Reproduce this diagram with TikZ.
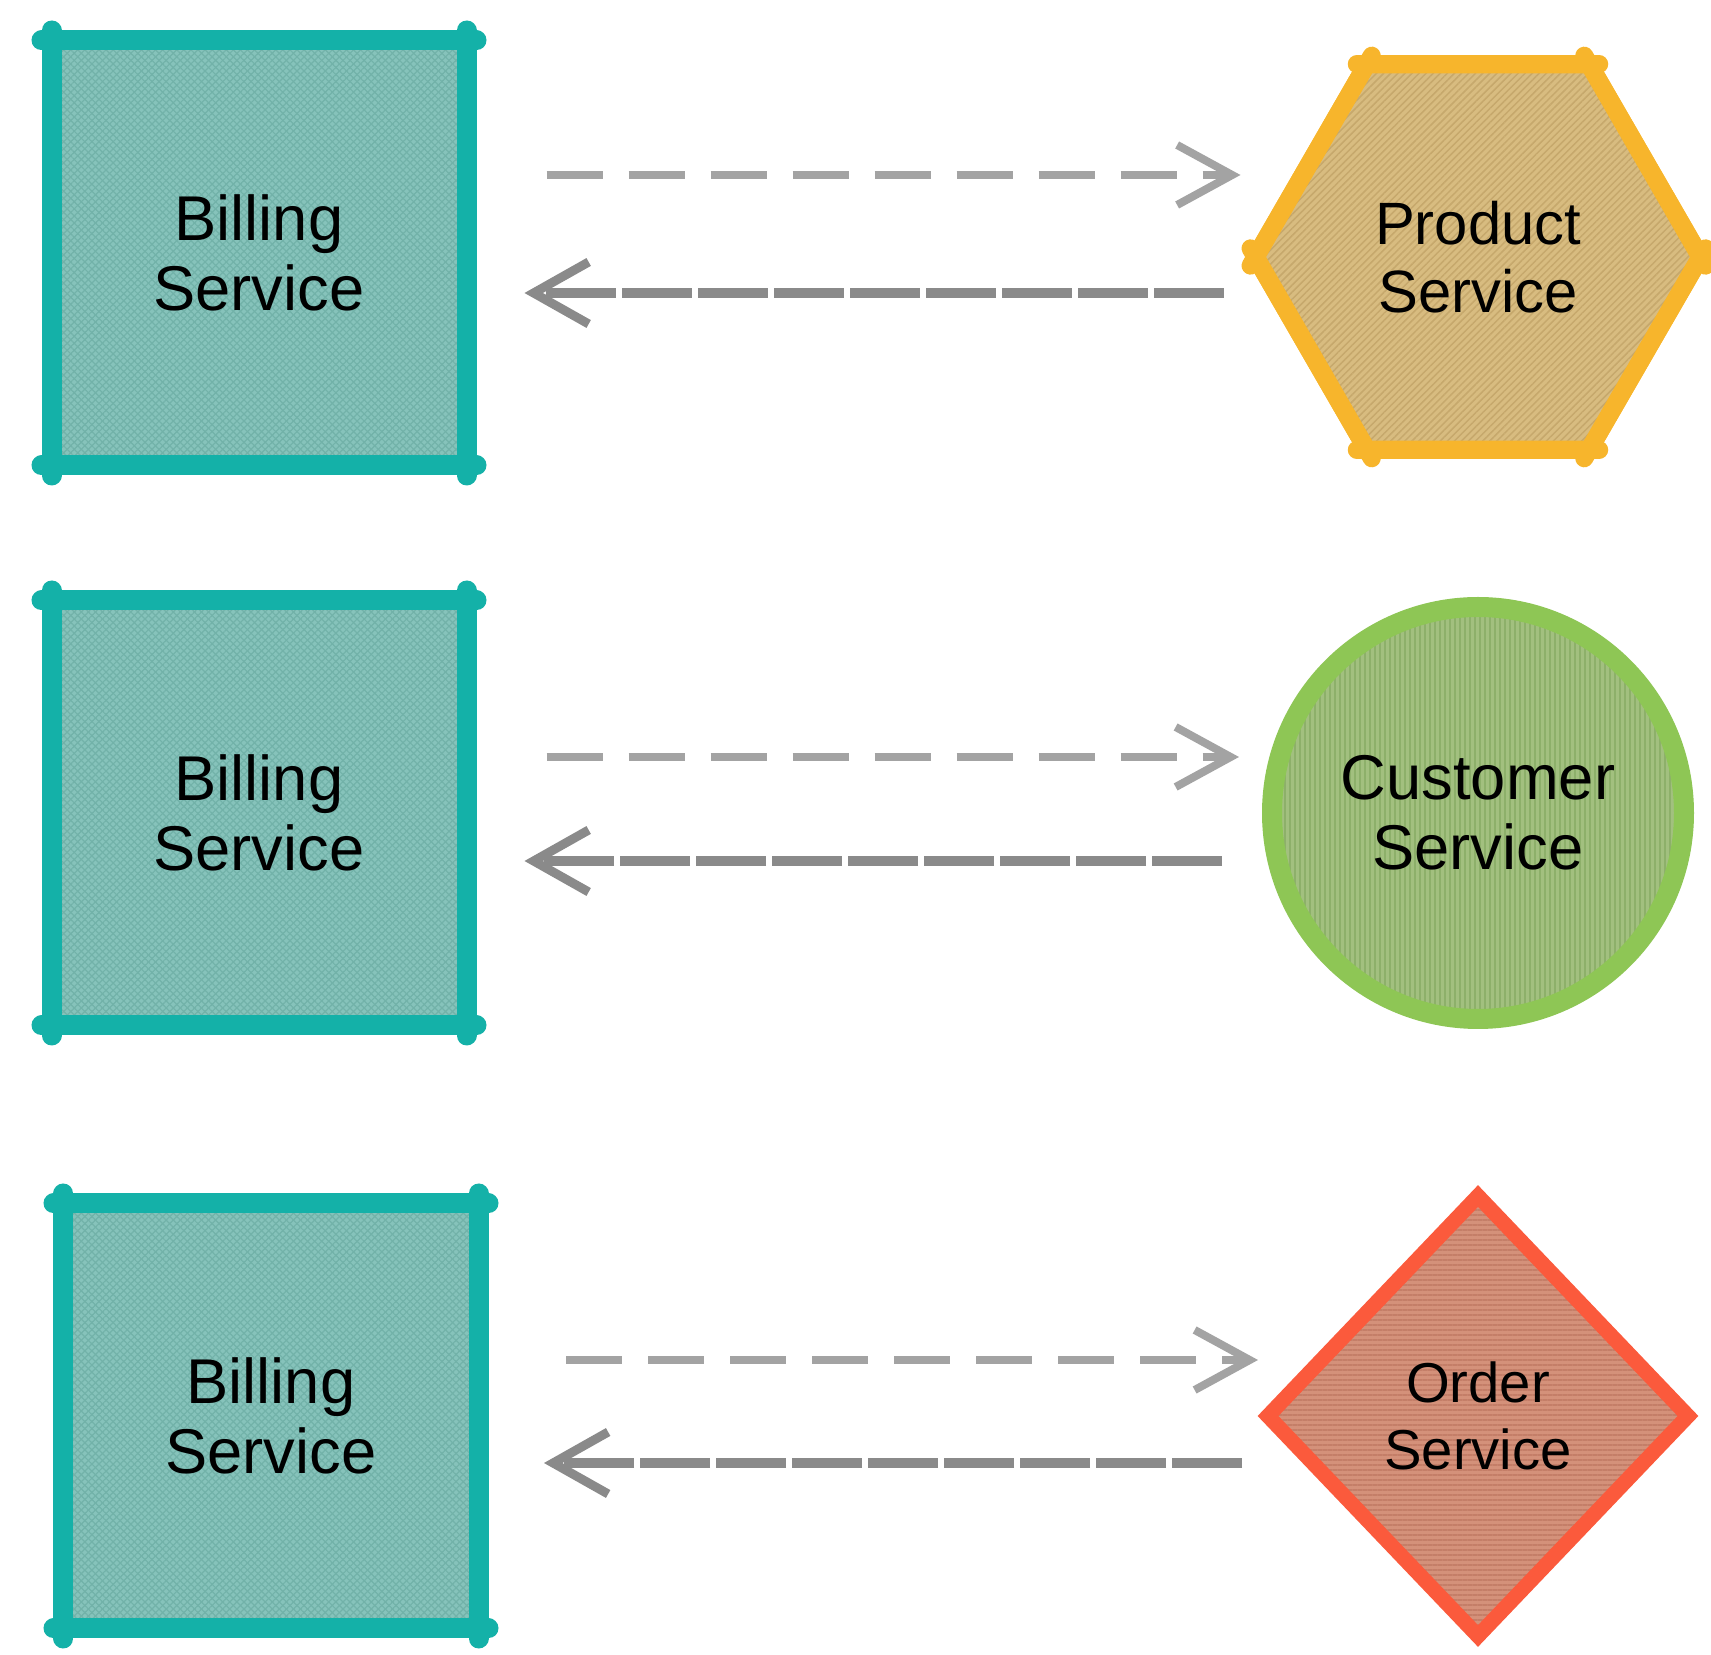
\documentclass[tikz,border=0pt]{standalone}
\usepackage{fontspec}
\setmainfont{Liberation Sans}
\usepackage{tikz}
\usetikzlibrary{shapes.geometric, arrows.meta}
\usetikzlibrary{positioning, patterns.meta}

\definecolor{billline}{HTML}{14B1A8}
\definecolor{billfill}{HTML}{86C3BB}
\definecolor{billhatch}{HTML}{72B2A9}
\definecolor{prodline}{HTML}{F7B52C}
\definecolor{prodfill}{HTML}{D8BC80}
\definecolor{prodhatch}{HTML}{C6A86C}
\definecolor{custline}{HTML}{8EC655}
\definecolor{custfill}{HTML}{A2C07F}
\definecolor{custhatch}{HTML}{8DB06A}
\definecolor{ordline}{HTML}{FB5A3C}
\definecolor{ordfill}{HTML}{D4917A}
\definecolor{ordhatch}{HTML}{C47E68}
\definecolor{reqgray}{HTML}{A3A3A3}
\definecolor{respgray}{HTML}{8A8A8A}

\tikzstyle{billing} = [rectangle, minimum width=4.15cm, minimum height=4.25cm, outer sep=0pt, line width=0.2cm, draw=billline, preaction={fill=billfill}, preaction={pattern={Lines[angle=45,distance=0.05cm,line width=0.012cm]}, pattern color=billhatch}, preaction={pattern={Lines[angle=-45,distance=0.05cm,line width=0.012cm]}, pattern color=billhatch}, align=center, font=\fontsize{18}{20}\selectfont]
\tikzstyle{product} = [regular polygon, regular polygon sides=6, minimum size=4.45cm, outer sep=0pt, line width=0.18cm, draw=prodline, preaction={fill=prodfill}, preaction={pattern={Lines[angle=45,distance=0.05cm,line width=0.015cm]}, pattern color=prodhatch}, align=center, font=\fontsize{17}{19.5}\selectfont]
\tikzstyle{customer} = [circle, minimum size=4.12cm, outer sep=0pt, line width=0.2cm, draw=custline, preaction={fill=custfill}, preaction={pattern={Lines[angle=90,distance=0.05cm,line width=0.015cm]}, pattern color=custhatch}, align=center, font=\fontsize{18}{20}\selectfont]
\tikzstyle{order} = [diamond, minimum width=4.2cm, minimum height=4.4cm, outer sep=0pt, line width=0.15cm, draw=ordline, preaction={fill=ordfill}, preaction={pattern={Lines[angle=0,distance=0.05cm,line width=0.015cm]}, pattern color=ordhatch}, align=center, font=\fontsize{16}{19}\selectfont]
\tikzstyle{tick} = [line width=0.2cm, line cap=round, shorten <=-0.1cm, shorten >=-0.1cm]
\tikzstyle{req} = [draw=reqgray, line width=0.075cm, dash pattern=on 0.56cm off 0.26cm, -{Straight Barb[length=0.55cm,width=0.6cm,line width=0.08cm]}]
\tikzstyle{resp} = [draw=respgray, line width=0.1cm, dash pattern=on 0.7cm off 0.06cm, -{Straight Barb[length=0.55cm,width=0.62cm,line width=0.09cm]}]

% sketchy overshoot at the corners
\newcommand{\boxticks}[1]{%
  \draw [tick, billline] (#1.north west) -- (#1.north east);
  \draw [tick, billline] (#1.south west) -- (#1.south east);
  \draw [tick, billline] (#1.north west) -- (#1.south west);
  \draw [tick, billline] (#1.north east) -- (#1.south east);}
\newcommand{\hexticks}[1]{%
  \draw [tick, line width=0.18cm, prodline] (#1.corner 1) -- (#1.corner 2);
  \draw [tick, line width=0.18cm, prodline] (#1.corner 2) -- (#1.corner 3);
  \draw [tick, line width=0.18cm, prodline] (#1.corner 3) -- (#1.corner 4);
  \draw [tick, line width=0.18cm, prodline] (#1.corner 4) -- (#1.corner 5);
  \draw [tick, line width=0.18cm, prodline] (#1.corner 5) -- (#1.corner 6);
  \draw [tick, line width=0.18cm, prodline] (#1.corner 6) -- (#1.corner 1);}

\begin{document}
\begin{tikzpicture}

\useasboundingbox (0,0) rectangle (17.11,-16.55);

\node (b1) [billing] at (2.59,-2.53) {Billing\\Service};
\node (b2) [billing, below=1.35cm of b1] {Billing\\Service};
\node (b3) [billing, below=1.78cm of b2, xshift=0.12cm] {Billing\\Service};

\node (prod) [product] at (14.78,-2.57) {Product\\Service};
\node (cust) [customer] at (prod |- b2) {Customer\\Service};
\node (ord) [order] at (prod |- b3) {Order\\Service};

\boxticks{b1}
\boxticks{b2}
\boxticks{b3}
\hexticks{prod}

\draw [req, shorten <=0.8cm, shorten >=0.15cm] ([yshift=0.78cm]b1.east) -- ([yshift=0.78cm]b1.east -| prod.west);
\draw [resp, shorten <=0.32cm, shorten >=0.58cm] ([yshift=-0.36cm]prod.west) -- ([yshift=-0.36cm]prod.west -| b1.east);

\draw [req, shorten <=0.8cm, shorten >=0.33cm] ([yshift=0.56cm]b2.east) -- ([yshift=0.56cm]b2.east -| cust.west);
\draw [resp, shorten <=0.5cm, shorten >=0.58cm] ([yshift=-0.48cm]b2.east -| cust.west) -- ([yshift=-0.48cm]b2.east);

\draw [req, shorten <=0.875cm, shorten >=0.1cm] ([yshift=0.56cm]b3.east) -- ([yshift=0.56cm]b3.east -| ord.west);
\draw [resp, shorten <=0.26cm, shorten >=0.655cm] ([yshift=-0.47cm]b3.east -| ord.west) -- ([yshift=-0.47cm]b3.east);

\end{tikzpicture}
\end{document}
